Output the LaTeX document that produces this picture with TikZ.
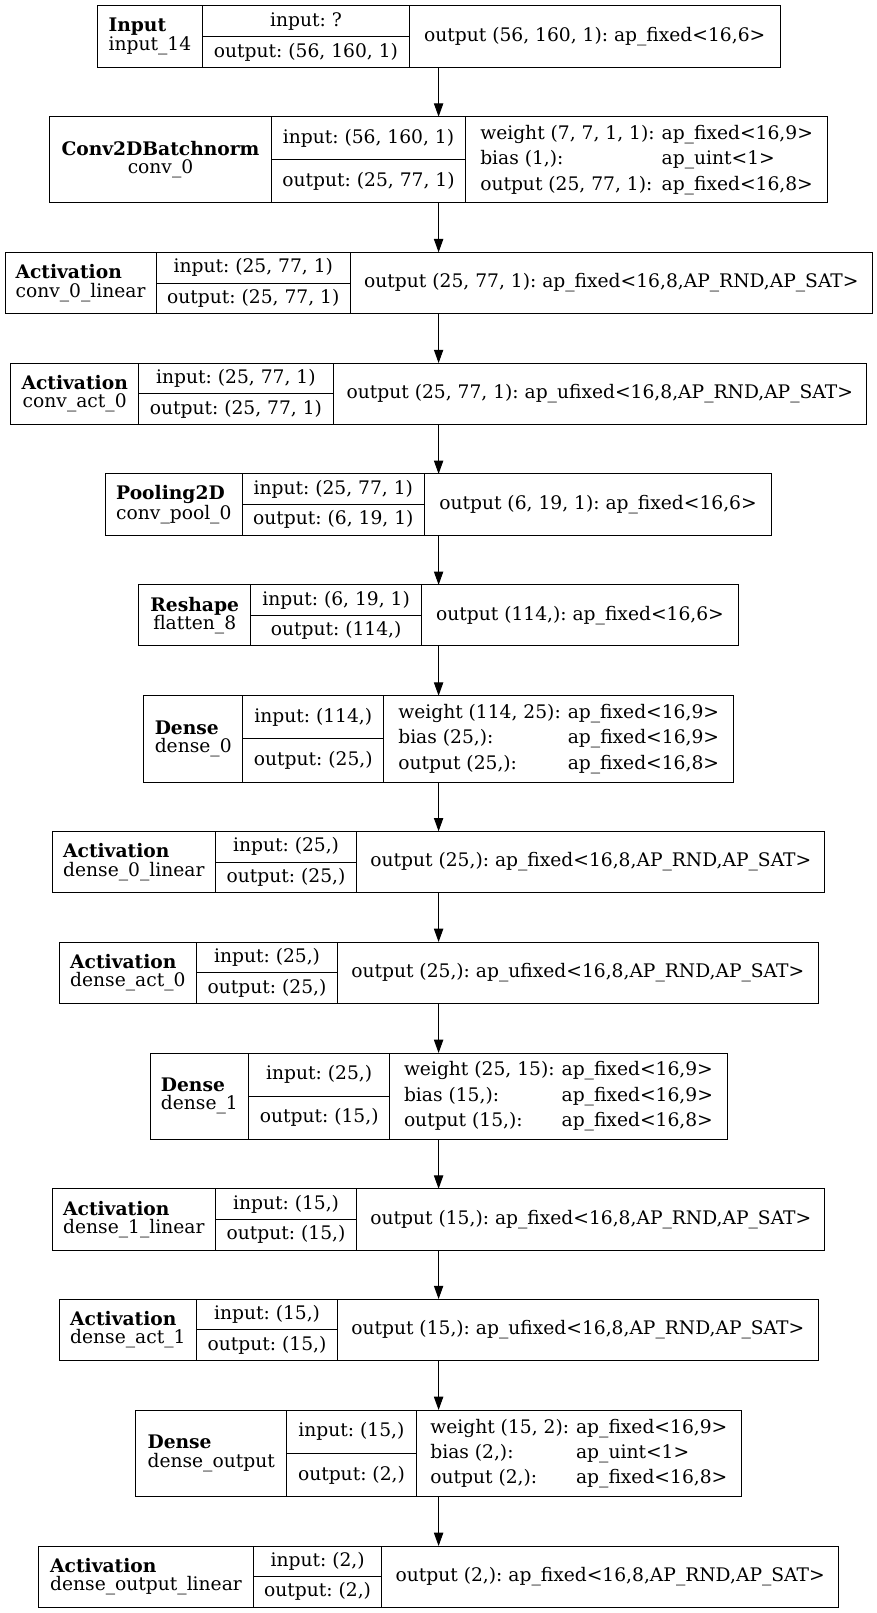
\documentclass[tikz,border=0pt]{standalone}
\usepackage{fontspec}
\setmainfont{DejaVu Serif}
\usetikzlibrary{arrows.meta}
\frenchspacing

\begin{document}
\begin{tikzpicture}[x=1pt,y=-1pt,line width=1pt,black]
	\tikzset{lyr/.style={rectangle,inner sep=0pt,outer sep=0pt},
		cell/.style={draw=black,rectangle,inner sep=2pt,outer sep=0pt,font=\fontsize{18.67}{18.3}\selectfont},
		tbl/.style={cell,execute at begin node={\def\arraystretch{1.39}}},
		arr/.style={-{Triangle[length=13.3pt,width=9.3pt]}}}
	\useasboundingbox (0,0) rectangle (877,1613);
	\node[lyr,minimum width=683.2pt,minimum height=61.6pt] at (438.6,36.5) (IN){};
	\node[cell,anchor=north west,minimum width=105.7pt,minimum height=61.6pt,align=left] at (IN.north west) (IN-l){\textbf{Input}\\input\_14};
	\node[cell,anchor=north west,minimum width=206.5pt,minimum height=30.8pt] at (IN-l.north east) (IN-i){input: ?};
	\node[cell,anchor=north west,minimum width=206.5pt,minimum height=30.8pt] at (IN-i.south west) (IN-o){output: (56, 160, 1)};
	\node[cell,anchor=north east,minimum width=371pt,minimum height=61.6pt] at (IN.north east) (IN-r){output (56, 160, 1): ap\_fixed<16,6>};
	\node[lyr,minimum width=777.8pt,minimum height=86.3pt] at (438.6,159.85) (CBN){};
	\node[cell,anchor=north west,minimum width=221.6pt,minimum height=86.3pt,align=center] at (CBN.north west) (CBN-l){\textbf{Conv2DBatchnorm}\\conv\_0};
	\node[cell,anchor=north west,minimum width=194.4pt,minimum height=43.15pt] at (CBN-l.north east) (CBN-i){input: (56, 160, 1)};
	\node[cell,anchor=north west,minimum width=194.4pt,minimum height=43.15pt] at (CBN-i.south west) (CBN-o){output: (25, 77, 1)};
	\node[tbl,anchor=north east,minimum width=361.8pt,minimum height=86.3pt] at (CBN.north east) (CBN-r){\begin{tabular}{@{}l@{\hspace{7pt}}l@{}}weight (7, 7, 1, 1): & ap\_fixed<16,9>\\bias (1,): & ap\_uint<1>\\output (25, 77, 1): & ap\_fixed<16,8>\end{tabular}};
	\node[lyr,minimum width=867.2pt,minimum height=61.4pt] at (438.6,283) (LIN0){};
	\node[cell,anchor=north west,minimum width=151pt,minimum height=61.4pt,align=left] at (LIN0.north west) (LIN0-l){\textbf{Activation}\\conv\_0\_linear};
	\node[cell,anchor=north west,minimum width=194.6pt,minimum height=30.7pt] at (LIN0-l.north east) (LIN0-i){input: (25, 77, 1)};
	\node[cell,anchor=north west,minimum width=194.6pt,minimum height=30.7pt] at (LIN0-i.south west) (LIN0-o){output: (25, 77, 1)};
	\node[cell,anchor=north east,minimum width=521.6pt,minimum height=61.4pt] at (LIN0.north east) (LIN0-r){output (25, 77, 1): ap\_fixed<16,8,AP\_RND,AP\_SAT>};
	\node[lyr,minimum width=855.8pt,minimum height=61.6pt] at (438.6,393.85) (ACT0){};
	\node[cell,anchor=north west,minimum width=128pt,minimum height=61.6pt,align=center] at (ACT0.north west) (ACT0-l){\textbf{Activation}\\conv\_act\_0};
	\node[cell,anchor=north west,minimum width=194.4pt,minimum height=30.8pt] at (ACT0-l.north east) (ACT0-i){input: (25, 77, 1)};
	\node[cell,anchor=north west,minimum width=194.4pt,minimum height=30.8pt] at (ACT0-i.south west) (ACT0-o){output: (25, 77, 1)};
	\node[cell,anchor=north east,minimum width=533.4pt,minimum height=61.6pt] at (ACT0.north east) (ACT0-r){output (25, 77, 1): ap\_ufixed<16,8,AP\_RND,AP\_SAT>};
	\node[lyr,minimum width=665.8pt,minimum height=61.2pt] at (438.6,504.5) (POOL){};
	\node[cell,anchor=north west,minimum width=136.3pt,minimum height=61.2pt,align=left] at (POOL.north west) (POOL-l){\textbf{Pooling2D}\\conv\_pool\_0};
	\node[cell,anchor=north west,minimum width=182.6pt,minimum height=30.6pt] at (POOL-l.north east) (POOL-i){input: (25, 77, 1)};
	\node[cell,anchor=north west,minimum width=182.6pt,minimum height=30.6pt] at (POOL-i.south west) (POOL-o){output: (6, 19, 1)};
	\node[cell,anchor=north east,minimum width=346.9pt,minimum height=61.2pt] at (POOL.north east) (POOL-r){output (6, 19, 1): ap\_fixed<16,6>};
	\node[lyr,minimum width=599.8pt,minimum height=61pt] at (438.6,615.35) (FLAT){};
	\node[cell,anchor=north west,minimum width=112pt,minimum height=61pt,align=center] at (FLAT.north west) (FLAT-l){\textbf{Reshape}\\flatten\_8};
	\node[cell,anchor=north west,minimum width=170.8pt,minimum height=30.5pt] at (FLAT-l.north east) (FLAT-i){input: (6, 19, 1)};
	\node[cell,anchor=north west,minimum width=170.8pt,minimum height=30.5pt] at (FLAT-i.south west) (FLAT-o){output: (114,)};
	\node[cell,anchor=north east,minimum width=317pt,minimum height=61pt] at (FLAT.north east) (FLAT-r){output (114,): ap\_fixed<16,6>};
	\node[lyr,minimum width=589.8pt,minimum height=86.3pt] at (438.6,738.85) (D0){};
	\node[cell,anchor=north west,minimum width=99pt,minimum height=86.3pt,align=left] at (D0.north west) (D0-l){\textbf{Dense}\\dense\_0};
	\node[cell,anchor=north west,minimum width=141.2pt,minimum height=43.15pt] at (D0-l.north east) (D0-i){input: (114,)};
	\node[cell,anchor=north west,minimum width=141.2pt,minimum height=43.15pt] at (D0-i.south west) (D0-o){output: (25,)};
	\node[tbl,anchor=north east,minimum width=349.6pt,minimum height=86.3pt] at (D0.north east) (D0-r){\begin{tabular}{@{}l@{\hspace{7pt}}l@{}}weight (114, 25): & ap\_fixed<16,9>\\bias (25,): & ap\_fixed<16,9>\\output (25,): & ap\_fixed<16,8>\end{tabular}};
	\node[lyr,minimum width=772.6pt,minimum height=61.4pt] at (438.6,862) (D0LIN){};
	\node[cell,anchor=north west,minimum width=163pt,minimum height=61.4pt,align=left] at (D0LIN.north west) (D0LIN-l){\textbf{Activation}\\dense\_0\_linear};
	\node[cell,anchor=north west,minimum width=141.5pt,minimum height=30.7pt] at (D0LIN-l.north east) (D0LIN-i){input: (25,)};
	\node[cell,anchor=north west,minimum width=141.5pt,minimum height=30.7pt] at (D0LIN-i.south west) (D0LIN-o){output: (25,)};
	\node[cell,anchor=north east,minimum width=468.1pt,minimum height=61.4pt] at (D0LIN.north east) (D0LIN-r){output (25,): ap\_fixed<16,8,AP\_RND,AP\_SAT>};
	\node[lyr,minimum width=759.2pt,minimum height=61.3pt] at (438.6,972.65) (D0ACT){};
	\node[cell,anchor=north west,minimum width=137.7pt,minimum height=61.3pt,align=left] at (D0ACT.north west) (D0ACT-l){\textbf{Activation}\\dense\_act\_0};
	\node[cell,anchor=north west,minimum width=140.7pt,minimum height=30.65pt] at (D0ACT-l.north east) (D0ACT-i){input: (25,)};
	\node[cell,anchor=north west,minimum width=140.7pt,minimum height=30.65pt] at (D0ACT-i.south west) (D0ACT-o){output: (25,)};
	\node[cell,anchor=north east,minimum width=480.8pt,minimum height=61.3pt] at (D0ACT.north east) (D0ACT-r){output (25,): ap\_ufixed<16,8,AP\_RND,AP\_SAT>};
	\node[lyr,minimum width=577.2pt,minimum height=86pt] at (438.6,1096) (D1){};
	\node[cell,anchor=north west,minimum width=98.7pt,minimum height=86pt,align=left] at (D1.north west) (D1-l){\textbf{Dense}\\dense\_1};
	\node[cell,anchor=north west,minimum width=141pt,minimum height=43pt] at (D1-l.north east) (D1-i){input: (25,)};
	\node[cell,anchor=north west,minimum width=141pt,minimum height=43pt] at (D1-i.south west) (D1-o){output: (15,)};
	\node[tbl,anchor=north east,minimum width=337.5pt,minimum height=86pt] at (D1.north east) (D1-r){\begin{tabular}{@{}l@{\hspace{7pt}}l@{}}weight (25, 15): & ap\_fixed<16,9>\\bias (15,): & ap\_fixed<16,9>\\output (15,): & ap\_fixed<16,8>\end{tabular}};
	\node[lyr,minimum width=772.6pt,minimum height=61.3pt] at (438.6,1219.35) (D1LIN){};
	\node[cell,anchor=north west,minimum width=163pt,minimum height=61.3pt,align=left] at (D1LIN.north west) (D1LIN-l){\textbf{Activation}\\dense\_1\_linear};
	\node[cell,anchor=north west,minimum width=141.5pt,minimum height=30.65pt] at (D1LIN-l.north east) (D1LIN-i){input: (15,)};
	\node[cell,anchor=north west,minimum width=141.5pt,minimum height=30.65pt] at (D1LIN-i.south west) (D1LIN-o){output: (15,)};
	\node[cell,anchor=north east,minimum width=468.1pt,minimum height=61.3pt] at (D1LIN.north east) (D1LIN-r){output (15,): ap\_fixed<16,8,AP\_RND,AP\_SAT>};
	\node[lyr,minimum width=759.2pt,minimum height=61.6pt] at (438.6,1329.85) (D1ACT){};
	\node[cell,anchor=north west,minimum width=137.7pt,minimum height=61.6pt,align=left] at (D1ACT.north west) (D1ACT-l){\textbf{Activation}\\dense\_act\_1};
	\node[cell,anchor=north west,minimum width=140.7pt,minimum height=30.8pt] at (D1ACT-l.north east) (D1ACT-i){input: (15,)};
	\node[cell,anchor=north west,minimum width=140.7pt,minimum height=30.8pt] at (D1ACT-i.south west) (D1ACT-o){output: (15,)};
	\node[cell,anchor=north east,minimum width=480.8pt,minimum height=61.6pt] at (D1ACT.north east) (D1ACT-r){output (15,): ap\_ufixed<16,8,AP\_RND,AP\_SAT>};
	\node[lyr,minimum width=605.8pt,minimum height=86.7pt] at (438.6,1453.35) (DOUT){};
	\node[cell,anchor=north west,minimum width=151pt,minimum height=86.7pt,align=left] at (DOUT.north west) (DOUT-l){\textbf{Dense}\\dense\_output};
	\node[cell,anchor=north west,minimum width=129.5pt,minimum height=43.35pt] at (DOUT-l.north east) (DOUT-i){input: (15,)};
	\node[cell,anchor=north west,minimum width=129.5pt,minimum height=43.35pt] at (DOUT-i.south west) (DOUT-o){output: (2,)};
	\node[tbl,anchor=north east,minimum width=325.3pt,minimum height=86.7pt] at (DOUT.north east) (DOUT-r){\begin{tabular}{@{}l@{\hspace{7pt}}l@{}}weight (15, 2): & ap\_fixed<16,9>\\bias (2,): & ap\_uint<1>\\output (2,): & ap\_fixed<16,8>\end{tabular}};
	\node[lyr,minimum width=799.8pt,minimum height=61pt] at (438.6,1576.5) (DOLIN){};
	\node[cell,anchor=north west,minimum width=214.6pt,minimum height=61pt,align=left] at (DOLIN.north west) (DOLIN-l){\textbf{Activation}\\dense\_output\_linear};
	\node[cell,anchor=north west,minimum width=128.6pt,minimum height=30.5pt] at (DOLIN-l.north east) (DOLIN-i){input: (2,)};
	\node[cell,anchor=north west,minimum width=128.6pt,minimum height=30.5pt] at (DOLIN-i.south west) (DOLIN-o){output: (2,)};
	\node[cell,anchor=north east,minimum width=456.6pt,minimum height=61pt] at (DOLIN.north east) (DOLIN-r){output (2,): ap\_fixed<16,8,AP\_RND,AP\_SAT>};
	\draw[arr] (IN) -- (CBN);
	\draw[arr] (CBN) -- (LIN0);
	\draw[arr] (LIN0) -- (ACT0);
	\draw[arr] (ACT0) -- (POOL);
	\draw[arr] (POOL) -- (FLAT);
	\draw[arr] (FLAT) -- (D0);
	\draw[arr] (D0) -- (D0LIN);
	\draw[arr] (D0LIN) -- (D0ACT);
	\draw[arr] (D0ACT) -- (D1);
	\draw[arr] (D1) -- (D1LIN);
	\draw[arr] (D1LIN) -- (D1ACT);
	\draw[arr] (D1ACT) -- (DOUT);
	\draw[arr] (DOUT) -- (DOLIN);
\end{tikzpicture}
\end{document}
